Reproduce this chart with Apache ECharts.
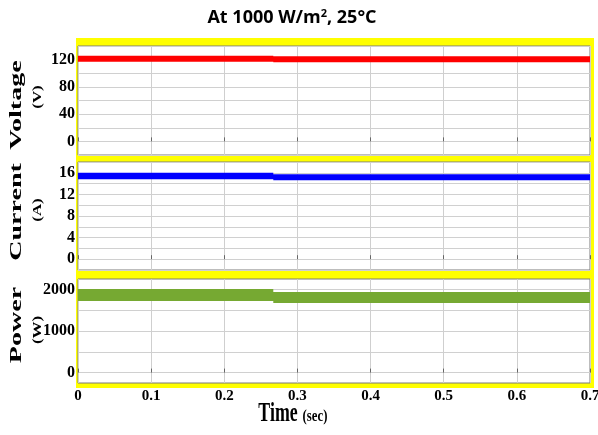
<!DOCTYPE html>
<html><head><meta charset="utf-8">
<script src="https://cdn.jsdelivr.net/npm/echarts@6/dist/echarts.min.js"></script>
<style>html,body{margin:0;padding:0;background:#fff}#c{width:598px;height:435px}</style>
</head><body><div id="c"></div>
<script>
// ---- data (ripple band: upper / lower envelope) ----
const timeSec      = [0, 0.267, 0.267, 0.7];
const voltageHigh  = [125.6, 125.6, 125.0, 125.0];
const voltageLow   = [117.0, 117.0, 116.0, 116.0];
const currentHigh  = [16.0, 16.0, 15.75, 15.75];
const currentLow   = [14.8, 14.8, 14.6, 14.6];
const powerHigh    = [2010, 2010, 1940, 1940];
const powerLow     = [1720, 1720, 1675, 1675];
const voltageTicks = [0, 40, 80, 120];
const currentTicks = [0, 4, 8, 12, 16];
const powerTicks   = [0, 1000, 2000];

const serif = 'Liberation Serif';
const chart = echarts.init(document.getElementById('c'), null, {renderer: 'canvas'});

const grids = [
  {left: 78, width: 512, top: 46, height: 109},
  {left: 78, width: 512, top: 162, height: 108},
  {left: 78, width: 512, top: 279, height: 104}
].map(g => Object.assign(g, {show: true, backgroundColor: '#fff', borderColor: '#7a7a7a', borderWidth: 1,
  containLabel: false, outerBoundsMode: 'none'}));

function xAx(i) {
  return {
    type: 'value', gridIndex: i, min: 0, max: 0.7, interval: 0.1,
    axisLine: {show: false},
    axisTick: {show: true, inside: true, length: 4, lineStyle: {color: '#666'}},
    splitLine: {show: true, lineStyle: {color: '#cfcfcf', width: 1}},
    axisLabel: {
      show: i === 2, color: '#000', fontFamily: serif, fontWeight: 'bold', fontSize: 15, margin: 6,
      formatter: v => (Math.abs(v) < 1e-9 ? '0' : v.toFixed(1))
    }
  };
}
function yAx(i, min, max, interval, ticks, colors) {
  return {
    type: 'value', gridIndex: i, min: min, max: max, interval: interval,
    axisLine: {show: false}, axisTick: {show: false},
    splitLine: {show: true, lineStyle: {color: colors, width: 1}},
    axisLabel: {
      color: '#000', fontFamily: serif, fontWeight: 'bold', fontSize: 16, margin: 3,
      formatter: v => (ticks.some(t => Math.abs(t - v) < 1e-6) ? String(Math.round(v)) : '')
    }
  };
}

// ripple band drawn as a polygon between lower and upper envelope, via the axis scales
function band(idx, low, high, color) {
  return {
    type: 'custom', xAxisIndex: idx, yAxisIndex: idx, silent: true, clip: true,
    data: [[timeSec[0], low[0], high[0]]],
    renderItem: function (params, api) {
      const top = timeSec.map((t, k) => api.coord([t, high[k]]));
      const bot = timeSec.map((t, k) => api.coord([t, low[k]])).reverse();
      return {type: 'polygon', shape: {points: top.concat(bot)}, style: {fill: color, stroke: null}};
    }
  };
}

function vText(txt, x, y, size, sx) {
  return {
    type: 'text', x: x, y: y, rotation: Math.PI / 2, scaleX: sx, scaleY: 1,
    style: {text: txt, fill: '#000', font: 'bold ' + size + 'px "' + serif + '"', textAlign: 'center', textVerticalAlign: 'middle'}
  };
}

chart.setOption({
  backgroundColor: '#fff',
  animation: false,
  grid: grids,
  xAxis: [xAx(0), xAx(1), xAx(2)],
  yAxis: [
    yAx(0, -20, 140, 20, voltageTicks, ['#d0d0d0']),
    yAx(1, -2, 18, 2, currentTicks, ['#d0d0d0']),
    yAx(2, -250, 2250, 250, powerTicks, ['rgba(0,0,0,0)', '#d0d0d0'])
  ],
  series: [
    band(0, voltageLow, voltageHigh, '#ff0000'),
    band(1, currentLow, currentHigh, '#0000ff'),
    band(2, powerLow, powerHigh, '#76a932')
  ],
  graphic: [
    {type: 'rect', z: -10, shape: {x: 76, y: 38, width: 518, height: 350}, style: {fill: '#ffff00'}},
    {type: 'text', x: 292, y: 18,
     style: {text: 'At 1000 W/m{sup|2}, 25°C', fill: '#000', font: 'bold 18px "Open Sans"', textAlign: 'center', textVerticalAlign: 'middle',
       rich: {sup: {fontSize: 11, fontFamily: 'Open Sans', fontWeight: 'bold', verticalAlign: 'top', padding: [0, 0, 8, 0]}}}},
    vText('Voltage', 17, 105, 17, 1.65),
    vText('(V)', 38, 97, 13, 1.3),
    vText('Current', 17, 212, 17, 1.65),
    vText('(A)', 38, 210, 13, 1.3),
    vText('Power', 17, 325, 17, 1.65),
    vText('(W)', 38, 330, 13, 1.3),
    {type: 'text', x: 278, y: 414, scaleX: 0.66, scaleY: 1,
     style: {text: 'Time', fill: '#000', font: 'bold 27px "' + serif + '"', textAlign: 'center', textVerticalAlign: 'middle'}},
    {type: 'text', x: 315, y: 417, scaleX: 0.8, scaleY: 1,
     style: {text: '(sec)', fill: '#000', font: 'bold 16px "' + serif + '"', textAlign: 'center', textVerticalAlign: 'middle'}}
  ]
});
</script></body></html>
